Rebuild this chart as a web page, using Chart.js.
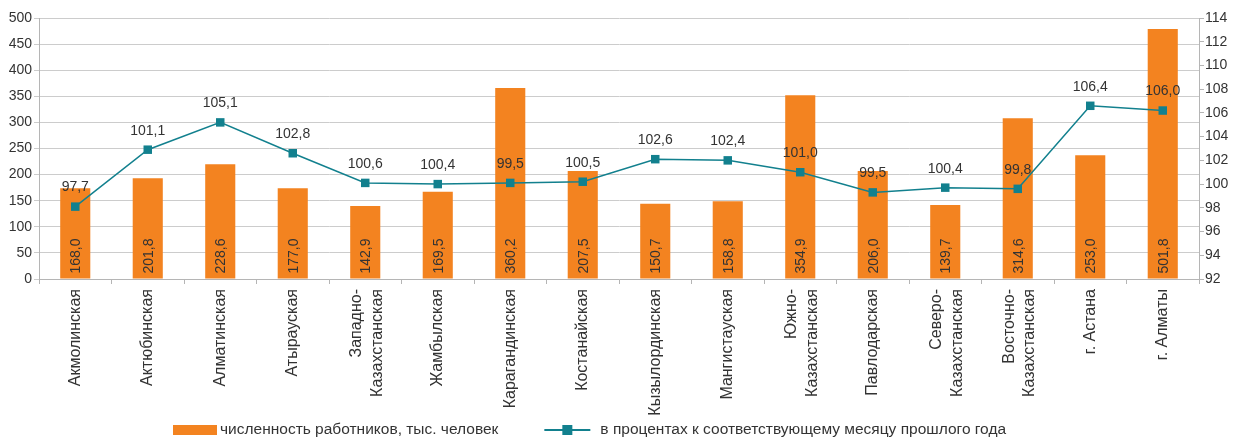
<!DOCTYPE html>
<html>
<head>
<meta charset="utf-8">
<script src="https://cdn.jsdelivr.net/npm/chart.js@4/dist/chart.umd.min.js"></script>
<style>
  html, body { margin: 0; padding: 0; background: #fff; }
</style>
</head>
<body>
<canvas id="chart" width="1236" height="437"></canvas>
<script>
const regions = [
    'Акмолинская', 'Актюбинская', 'Алматинская', 'Атырауская',
    ['Западно-', 'Казахстанская'], 'Жамбылская', 'Карагандинская', 'Костанайская',
    'Кызылординская', 'Мангистауская', ['Южно-', 'Казахстанская'], 'Павлодарская',
    ['Северо-', 'Казахстанская'], ['Восточно-', 'Казахстанская'], 'г. Астана', 'г. Алматы'
];

// bar heights as they are drawn in the picture (тыс. человек)
const workers = [174, 193, 220, 174, 140, 167, 366, 207, 144, 149, 352, 207, 142, 308, 237, 479];
// the numbers printed inside the bars
const workersText = ['168,0', '201,8', '228,6', '177,0', '142,9', '169,5', '360,2', '207,5',
    '150,7', '158,8', '354,9', '206,0', '139,7', '314,6', '253,0', '501,8'];

// line points as drawn (% к соответствующему месяцу прошлого года)
const percent = [98.1, 102.9, 105.2, 102.6, 100.1, 100.0, 100.1, 100.2,
    102.1, 102.0, 101.0, 99.3, 99.7, 99.6, 106.6, 106.2];
const percentText = ['97,7', '101,1', '105,1', '102,8', '100,6', '100,4', '99,5', '100,5',
    '102,6', '102,4', '101,0', '99,5', '100,4', '99,8', '106,4', '106,0'];

const seriesNames = ['численность работников, тыс. человек', 'в процентах к соответствующему месяцу прошлого года'];

const ORANGE = '#f38320';
const TEAL = '#12808e';
const TEXT = '#333333';
const FONT = '"Liberation Sans", Arial, sans-serif';

Chart.defaults.font.family = FONT;
Chart.defaults.font.size = 14;
Chart.defaults.color = TEXT;

// numbers on bars and above the points
const valueLabels = {
    id: 'valueLabels',
    afterDatasetsDraw(chart) {
        const ctx = chart.ctx;
        ctx.save();
        ctx.font = '14px ' + FONT;
        ctx.fillStyle = TEXT;
        chart.getDatasetMeta(0).data.forEach((bar, i) => {
            ctx.save();
            ctx.translate(bar.x + 1, bar.base - 5);
            ctx.rotate(-Math.PI / 2);
            ctx.textAlign = 'left';
            ctx.textBaseline = 'middle';
            ctx.fillText(workersText[i], 0, 0);
            ctx.restore();
        });
        ctx.textAlign = 'center';
        ctx.textBaseline = 'middle';
        chart.getDatasetMeta(1).data.forEach((pt, i) => {
            ctx.fillText(percentText[i], pt.x, pt.y - 19);
        });
        ctx.restore();
    }
};

// two-line category names: pull them back so both lines sit round the tick
const centerLabels = {
    id: 'centerLabels',
    beforeDraw(chart) {
        const scale = chart.scales.x;
        scale.getLabelItems().forEach(item => {
            if (Array.isArray(item.label) && !item._moved) {
                item.options.translation[0] -= (item.label.length - 1) * 8.5;
                item._moved = true;
            }
        });
    }
};

// legend drawn by hand so it sits where the original one does
const bottomLegend = {
    id: 'bottomLegend',
    afterDraw(chart) {
        const ctx = chart.ctx;
        const y = 430;
        ctx.save();
        ctx.font = '15.5px ' + FONT;
        ctx.textBaseline = 'middle';
        ctx.textAlign = 'left';

        let x = 173;
        ctx.fillStyle = ORANGE;
        ctx.fillRect(x, y - 5, 44, 10);
        ctx.fillStyle = TEXT;
        ctx.fillText(seriesNames[0], x + 47, y);

        x = x + 47 + ctx.measureText(seriesNames[0]).width + 46;
        ctx.strokeStyle = TEAL;
        ctx.lineWidth = 2;
        ctx.beginPath();
        ctx.moveTo(x, y);
        ctx.lineTo(x + 46, y);
        ctx.stroke();
        ctx.fillStyle = TEAL;
        ctx.fillRect(x + 23 - 5, y - 5, 10, 10);
        ctx.fillStyle = TEXT;
        ctx.fillText(seriesNames[1], x + 56, y);
        ctx.restore();
    }
};

new Chart(document.getElementById('chart'), {
    data: {
        labels: regions,
        datasets: [
            {
                type: 'bar',
                label: seriesNames[0],
                data: workers,
                backgroundColor: ORANGE,
                yAxisID: 'y',
                order: 2,
                categoryPercentage: 0.83,
                barPercentage: 0.5
            },
            {
                type: 'line',
                label: seriesNames[1],
                data: percent,
                borderColor: TEAL,
                backgroundColor: TEAL,
                borderWidth: 1.5,
                pointStyle: 'rect',
                pointRadius: 6,
                pointBorderWidth: 0,
                yAxisID: 'y1',
                order: 1
            }
        ]
    },
    options: {
        responsive: false,
        devicePixelRatio: 1,
        animation: false,
        layout: { padding: { top: 18, left: 0, right: 0, bottom: 0 } },
        plugins: {
            legend: { display: false },
            tooltip: { enabled: false }
        },
        scales: {
            x: {
                afterFit: (scale) => { scale.height = 158; },
                grid: { drawOnChartArea: false, offset: true, tickLength: 5, color: '#b5b5b5' },
                border: { color: '#b5b5b5' },
                ticks: {
                    autoSkip: false, minRotation: 90, maxRotation: 90, padding: 5, color: TEXT,
                    font: { size: 16, lineHeight: 1.3 }
                }
            },
            y: {
                position: 'left',
                min: 0,
                max: 500,
                afterFit: (scale) => { scale.width = 39; },
                grid: { color: '#cccccc', tickLength: 5 },
                border: { color: '#b5b5b5' },
                ticks: { stepSize: 50, padding: 2, color: TEXT }
            },
            y1: {
                position: 'right',
                min: 92,
                max: 114,
                afterFit: (scale) => { scale.width = 37; },
                grid: { drawOnChartArea: false, tickLength: 5, color: '#b5b5b5' },
                border: { color: '#b5b5b5' },
                ticks: { stepSize: 2, padding: 1, color: TEXT }
            }
        }
    },
    plugins: [valueLabels, centerLabels, bottomLegend]
});
</script>
</body>
</html>
